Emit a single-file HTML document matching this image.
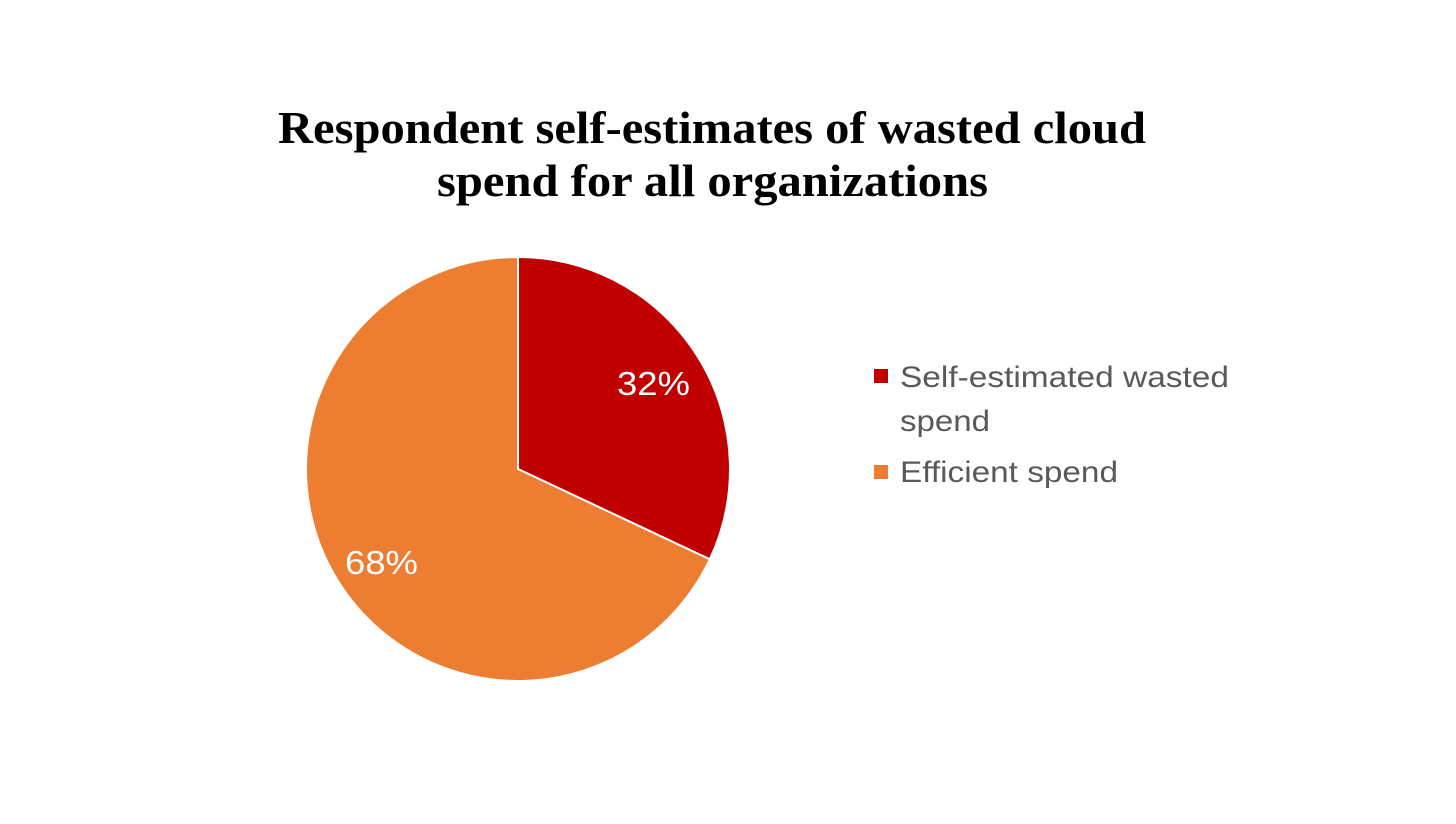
<!DOCTYPE html>
<html><head><meta charset="utf-8">
<style>
html,body{margin:0;padding:0;background:#fff;}
body{width:1456px;height:819px;overflow:hidden;position:relative;}
</style></head>
<body>
<svg width="1456" height="819" xmlns="http://www.w3.org/2000/svg">
<text x="278" y="143" textLength="868" lengthAdjust="spacingAndGlyphs" font-family="Liberation Serif, serif" font-weight="bold" font-size="45" fill="#000">Respondent self-estimates of wasted cloud</text>
<text x="437" y="196" textLength="551" lengthAdjust="spacingAndGlyphs" font-family="Liberation Serif, serif" font-weight="bold" font-size="45" fill="#000">spend for all organizations</text>
<path d="M518,469 L518,257 A212,212 0 0 1 709.8,559.3 Z" fill="#C00000" stroke="#fff" stroke-width="2"/>
<path d="M518,469 L709.8,559.3 A212,212 0 1 1 518,257 Z" fill="#ED7D31" stroke="#fff" stroke-width="2"/>
<text x="617" y="395" textLength="73" lengthAdjust="spacingAndGlyphs" font-family="Liberation Sans, sans-serif" font-size="33" fill="#fff">32%</text>
<text x="345" y="574" textLength="73" lengthAdjust="spacingAndGlyphs" font-family="Liberation Sans, sans-serif" font-size="33" fill="#fff">68%</text>
<rect x="874" y="369" width="14" height="14" fill="#C00000"/>
<text x="900" y="387" textLength="329" lengthAdjust="spacingAndGlyphs" font-family="Liberation Sans, sans-serif" font-size="30" fill="#595959">Self-estimated wasted</text>
<text x="900" y="431" textLength="90" lengthAdjust="spacingAndGlyphs" font-family="Liberation Sans, sans-serif" font-size="30" fill="#595959">spend</text>
<rect x="874" y="465" width="14" height="14" fill="#ED7D31"/>
<text x="900" y="482" textLength="218" lengthAdjust="spacingAndGlyphs" font-family="Liberation Sans, sans-serif" font-size="30" fill="#595959">Efficient spend</text>
</svg>
</body></html>
